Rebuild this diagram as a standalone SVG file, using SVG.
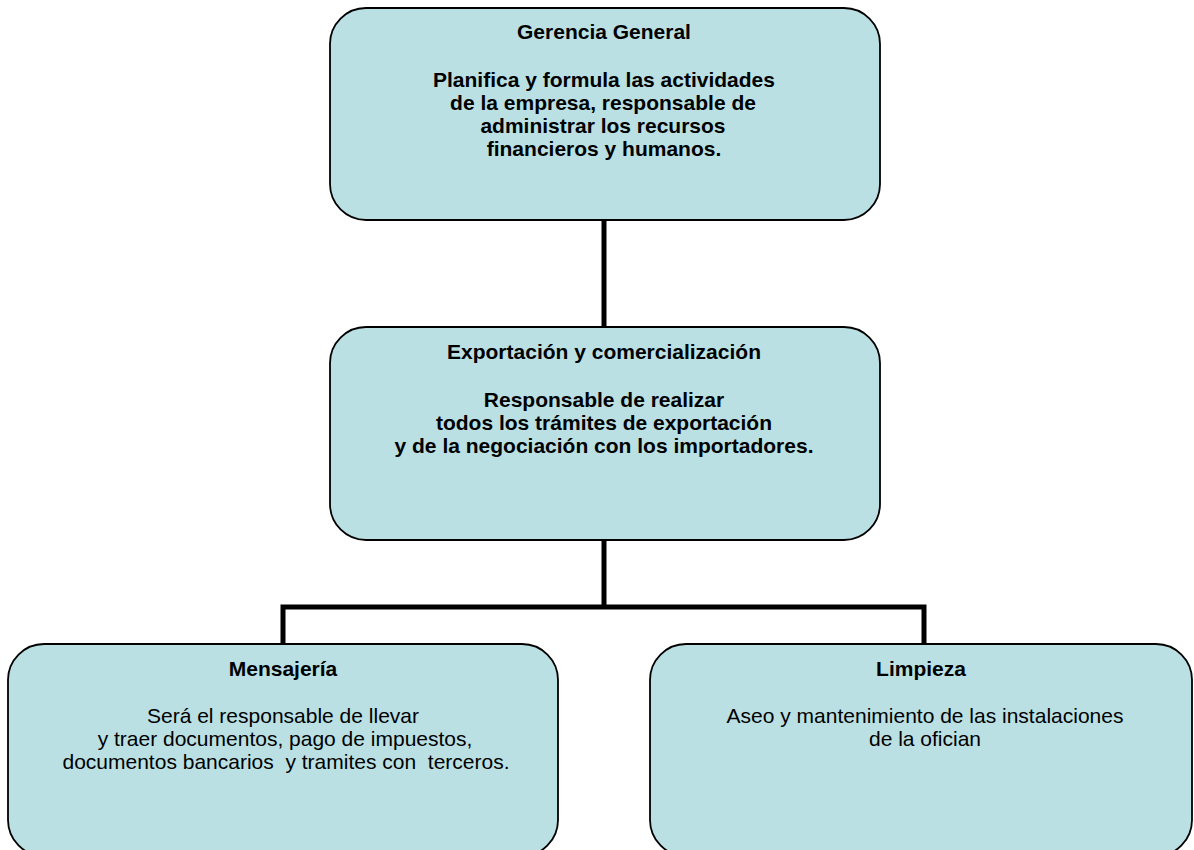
<svg xmlns="http://www.w3.org/2000/svg" width="1194" height="850" viewBox="0 0 1194 850">
  <style>
    .box { fill: #BAE0E3; stroke: #000; stroke-width: 1.8; }
    .t { font-family: "Liberation Sans", Arial, sans-serif; font-size: 21px; fill: #000; text-anchor: middle; white-space: pre; }
    .b { font-weight: bold; }
    .conn { fill: none; stroke: #000; stroke-width: 5; stroke-linejoin: miter; }
  </style>
  <rect width="1194" height="850" fill="#fff"/>
  <g id="connectors">
    <line class="conn" x1="604" y1="220" x2="604" y2="327"/>
    <polyline class="conn" points="604,540 604,607"/>
    <polyline class="conn" points="283,644 283,607 924,607 924,644"/>
  </g>
  <g id="gerencia">
    <rect class="box" x="330" y="8" width="550" height="212" rx="36" ry="36"/>
    <text class="t b" x="604" y="39">Gerencia General</text>
    <text class="t b" x="604" y="87">Planifica y formula las actividades</text>
    <text class="t b" x="603" y="110">de la empresa, responsable de</text>
    <text class="t b" x="603" y="133">administrar los recursos</text>
    <text class="t b" x="604" y="156">financieros y humanos.</text>
  </g>
  <g id="exportacion">
    <rect class="box" x="330" y="327" width="550" height="213" rx="36" ry="36"/>
    <text class="t b" x="604" y="359">Exportación y comercialización</text>
    <text class="t b" x="604" y="407">Responsable de realizar</text>
    <text class="t b" x="604" y="430">todos los trámites de exportación</text>
    <text class="t b" x="604" y="453">y de la negociación con los importadores.</text>
  </g>
  <g id="mensajeria">
    <rect class="box" x="8" y="644" width="550" height="212" rx="36" ry="36"/>
    <text class="t b" x="283" y="676">Mensajería</text>
    <text class="t" x="283" y="723">Será el responsable de llevar</text>
    <text class="t" x="285" y="746">y traer documentos, pago de impuestos,</text>
    <text class="t" x="286" y="769">documentos bancarios  y tramites con  terceros.</text>
  </g>
  <g id="limpieza">
    <rect class="box" x="650" y="644" width="542" height="212" rx="36" ry="36"/>
    <text class="t b" x="921" y="676">Limpieza</text>
    <text class="t" x="925" y="723">Aseo y mantenimiento de las instalaciones</text>
    <text class="t" x="925" y="746">de la ofician</text>
  </g>
</svg>
